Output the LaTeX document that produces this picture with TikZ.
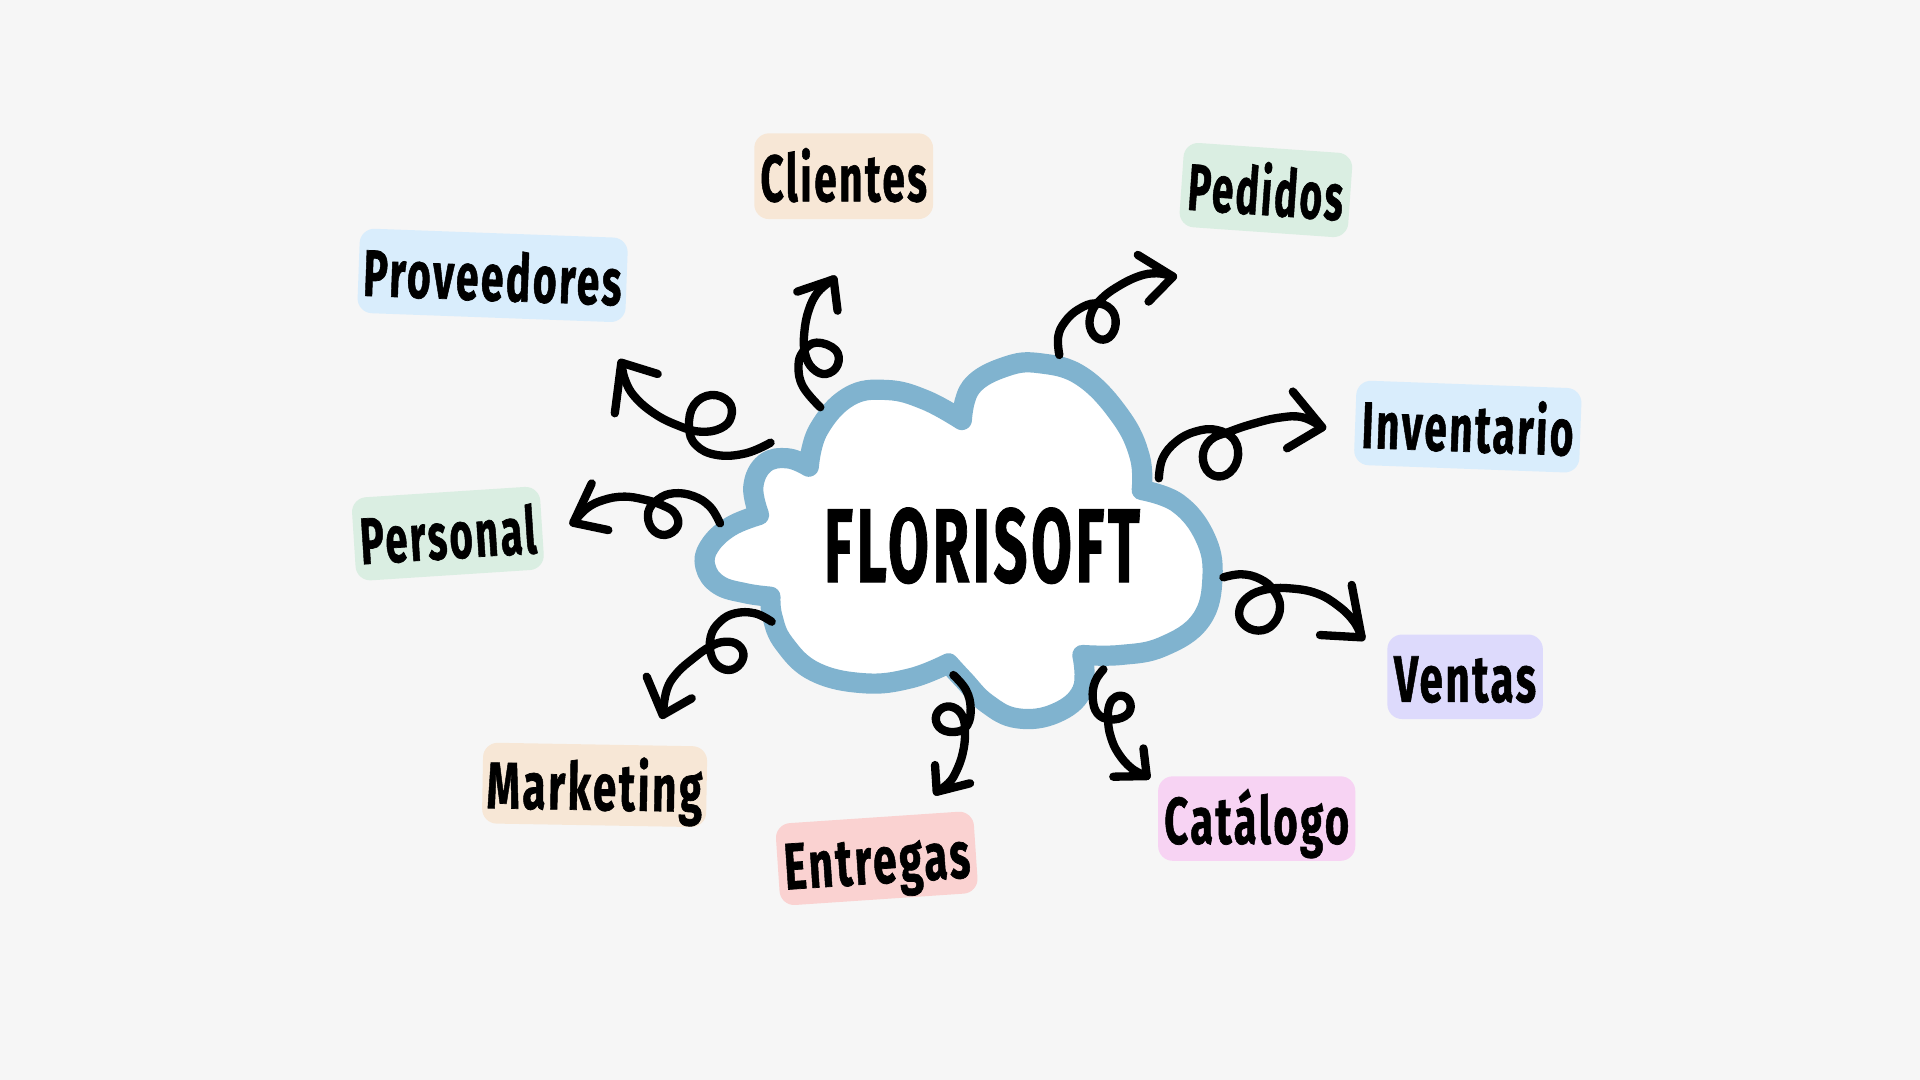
\documentclass[tikz,border=0pt]{standalone}
\usepackage{fontspec}
\setmainfont{Fira Sans}[BoldFeatures={FakeBold=1.1,LetterSpace=6}]
\usepackage{graphicx}
\definecolor{bg}{HTML}{F6F6F6}
\definecolor{cloudblue}{HTML}{80B3CF}
\definecolor{peach}{HTML}{F7E7D6}
\definecolor{skyb}{HTML}{D9EDFC}
\definecolor{mint}{HTML}{DAEEE2}
\definecolor{lav}{HTML}{DDDAFC}
\definecolor{pinkc}{HTML}{F7D3F3}
\definecolor{rose}{HTML}{FAD2D1}
\newcommand{\fitw}[2]{\resizebox{#1pt}{\height}{#2}}
\begin{document}
\begin{tikzpicture}[x=1pt,y=-1pt,
  tag/.style={rounded corners=12pt, inner sep=0pt, text height=41pt, text depth=0pt,
    font=\bfseries\fontsize{53.7}{60}\selectfont},
  curl/.style={draw=black, line width=6.8pt, line cap=round, line join=round},
  cloudshape/.style={draw=cloudblue, fill=white, line width=16.5pt, line join=round},
  title/.style={inner sep=0pt, text height=59pt, text depth=0pt,
    font=\bfseries\fontsize{85.6}{90}\selectfont}]
% background
\fill[bg] (0,0) rectangle (1568,882);
\useasboundingbox (0,0) rectangle (1568,882);
% cloud
\filldraw[cloudshape]
  plot[smooth,tension=0.7] coordinates {(629.2,487.3) (608.9,484.5) (587,477.7) (576.1,462.8) (579.2,446.4) (596.4,430.1) (619.9,420.6)}
  -- plot[smooth,tension=0.7] coordinates {(619.9,420.6) (615.2,397.4) (624.6,378.4) (643.3,374.3) (660.5,381.1)}
  -- plot[smooth,tension=0.7] coordinates {(660.5,381.1) (668.3,351.2) (693.3,323.9) (724.6,318.5) (755.8,326.7) (785.5,343)}
  -- plot[smooth,tension=0.7] coordinates {(785.5,343) (793.3,315.8) (821.4,299.4) (849.6,296.7) (883.9,307.6) (915.2,340.3) (930.8,372.9) (932.4,400.2)}
  -- plot[smooth,tension=0.7] coordinates {(932.4,400.2) (962,411) (983.9,438.3) (990.2,470.9) (980.8,506.3) (949.6,528.1) (915.2,534.9) (883.9,534.9)}
  -- plot[smooth,tension=0.7] coordinates {(883.9,534.9) (883.9,563.5) (862.1,582.5) (830.8,586.6) (805.8,574.4) (787.1,555.3) (774.6,541.7)}
  -- plot[smooth,tension=0.7] coordinates {(774.6,541.7) (743.3,554) (705.8,558) (665.2,548.5) (640.2,525.4) (630.8,503.6) (629.2,487.3)}
  -- cycle;
\node[title] (florisoft) at (802,445.8) {\fitw{258}{FLORISOFT}};
% labels
\node[tag, fill=peach, minimum width=146pt, minimum height=70pt] (clientes) at (689,143.9) {\fitw{136}{Clientes}};
\node[tag, fill=skyb, minimum width=219pt, minimum height=69pt, rotate=-2.1] (proveedores) at (402.3,224.9) {\fitw{211}{Proveedores}};
\node[tag, fill=mint, minimum width=138pt, minimum height=69pt, rotate=-4] (pedidos) at (1033.8,155.2) {\fitw{127}{Pedidos}};
\node[tag, fill=skyb, minimum width=184pt, minimum height=69pt, rotate=-2.1] (inventario) at (1198.7,348.4) {\fitw{173}{Inventario}};
\node[tag, fill=mint, minimum width=154pt, minimum height=68pt, rotate=3.7] (personal) at (365.8,435.8) {\fitw{144}{Personal}};
\node[tag, fill=lav, minimum width=127pt, minimum height=69pt] (ventas) at (1196.5,552.7) {\fitw{116}{Ventas}};
\node[tag, fill=pinkc, minimum width=161pt, minimum height=69pt] (catalogo) at (1026.3,668.5) {\fitw{151}{Catálogo}};
\node[tag, fill=rose, minimum width=162pt, minimum height=67pt, rotate=3.85] (entregas) at (716,701) {\fitw{152}{Entregas}};
\node[tag, fill=peach, minimum width=183pt, minimum height=66pt, rotate=-1] (marketing) at (485.6,641) {\fitw{176}{Marketing}};
% arrow coordinates
\coordinate (Atip) at (680.8,228.1); \coordinate (Ab1) at (651.1,238.2); \coordinate (Ab2) at (684,253.7);
\coordinate (Btip) at (507.4,296.2); \coordinate (Bb1) at (502.1,337.5); \coordinate (Bb2) at (537.1,305.4);
\coordinate (Ctip) at (958,225.9); \coordinate (Cb1) at (929.2,208.2); \coordinate (Cb2) at (938,246.3);
\coordinate (Dtip) at (1079.8,349); \coordinate (Db1) at (1055.8,319.8); \coordinate (Db2) at (1051.1,366.1);
\coordinate (Etip) at (1112,520.5); \coordinate (Eb1) at (1103.9,477.7); \coordinate (Eb2) at (1078,518.6);
\coordinate (Ftip) at (936.5,633.8); \coordinate (Fb1) at (933.8,611.2); \coordinate (Fb2) at (909.2,634.3);
\coordinate (Gtip) at (765,646.6); \coordinate (Gb1) at (763.6,624.8); \coordinate (Gb2) at (792.2,639.7);
\coordinate (Htip) at (541.2,583.9); \coordinate (Hb1) at (528.1,552.6); \coordinate (Hb2) at (564.9,570.3);
\coordinate (Itip) at (468.2,426.9); \coordinate (Ib1) at (483.2,394.8); \coordinate (Ib2) at (496.8,432.9);
% A -> Clientes
\draw[curl] plot[smooth,tension=0.7] coordinates {(669.9,332.6) (655.8,315.8) (652.1,299.4) (655.8,287.2) (666.8,279.8) (682.4,285.8) (684,298.1) (674.6,305.4) (663.6,300.8) (657.4,288.5) (656.8,272.2) (660.5,253.2) (668.3,238.2) (680.8,228.1)};
\draw[curl] (Ab1) -- (Atip) -- (Ab2);
% B -> Proveedores
\draw[curl] plot[smooth,tension=0.7] coordinates {(629.3,361.5) (609,370.2) (585.5,371.6) (568.3,363.4) (562.7,348.4) (566.8,330.7) (580.8,322.6) (594.9,328) (597.1,340.3) (588.6,349.8) (571.5,352.5) (552.7,347.1) (534,337.5) (518.3,323.9) (510.5,310.3) (507.4,296.2)};
\draw[curl] (Bb1) -- (Btip) -- (Bb2);
% C -> Pedidos
\draw[curl] plot[smooth,tension=0.7] coordinates {(865.1,289.9) (864.2,274.9) (869.8,262.7) (880.8,252.6) (894.8,247.7) (907.3,252.6) (911.1,264.6) (905.8,275.5) (896.4,276.3) (890.1,266.8) (891.7,254.5) (898.6,245) (910.5,235.5) (929.2,225.9) (944.8,223.2) (958,225.9)};
\draw[curl] (Cb1) -- (Ctip) -- (Cb2);
% D -> Inventario
\draw[curl] plot[smooth,tension=0.7] coordinates {(946.4,390.6) (949.5,374.3) (960.5,360.7) (976.1,352.5) (993.3,351.1) (1008,359.3) (1010.5,375.6) (1001.1,387.9) (988,386.5) (982.3,372.9) (988.6,359.3) (1004.2,352.5) (1023,346.2) (1044.8,341.1) (1063.6,340.8) (1079.8,349)};
\draw[curl] (Db1) -- (Dtip) -- (Db2);
% E -> Ventas
\draw[curl] plot[smooth,tension=0.7] coordinates {(999.1,471.5) (1014.1,469) (1029,472.8) (1039.9,481.8) (1045.4,495.4) (1039.9,509.6) (1027.7,515) (1015.4,509.6) (1012.2,498.2) (1019.5,487.3) (1034.5,481.3) (1053.5,480.5) (1075.3,484.6) (1093,494.9) (1105.8,507.7) (1112,520.5)};
\draw[curl] (Eb1) -- (Etip) -- (Eb2);
% F -> Catalogo
\draw[curl] plot[smooth,tension=0.7] coordinates {(901.1,546.7) (894.3,556.7) (892.4,570.3) (896.2,582.6) (906.5,587.5) (918.8,584.8) (923.4,577.1) (919.6,569.5) (911.4,569) (906,575.8) (904.9,588) (907.1,601.6) (913.3,615.2) (924.2,627.5) (936.5,633.8)};
\draw[curl] (Fb1) -- (Ftip) -- (Fb2);
% G -> Entregas
\draw[curl] plot[smooth,tension=0.7] coordinates {(778.6,551.3) (788.9,563.5) (792.7,578.5) (790,592.1) (781.3,597.6) (769.1,595.6) (764.2,586.7) (769.1,578.5) (778.6,577.7) (786.2,585.3) (788.1,598.9) (786.2,615.2) (780.8,630.2) (774.5,639.7) (765,646.6)};
\draw[curl] (Gb1) -- (Gtip) -- (Gb2);
% H -> Marketing
\draw[curl] plot[smooth,tension=0.7] coordinates {(630.2,507.7) (616.6,500.9) (600.3,500.9) (588,507.7) (580.4,520) (581.2,536.3) (589.4,545.8) (600.3,545.8) (607.1,536.3) (603,526.8) (592.1,524.1) (579.8,528.1) (566.2,537.7) (552.6,549.9) (544.5,563.5) (541.2,583.9)};
\draw[curl] (Hb1) -- (Htip) -- (Hb2);
% I -> Personal
\draw[curl] plot[smooth,tension=0.7] coordinates {(588,427.4) (579.8,413.8) (566.2,405.1) (549.9,402.9) (537.6,407.8) (529.5,417.9) (532.2,431.5) (543.1,436.9) (553.2,430.1) (551.3,419.2) (540.4,412.4) (525.4,407.8) (509.1,405.6) (492.7,408.4) (479.1,415.2) (468.2,426.9)};
\draw[curl] (Ib1) -- (Itip) -- (Ib2);
\end{tikzpicture}
\end{document}
